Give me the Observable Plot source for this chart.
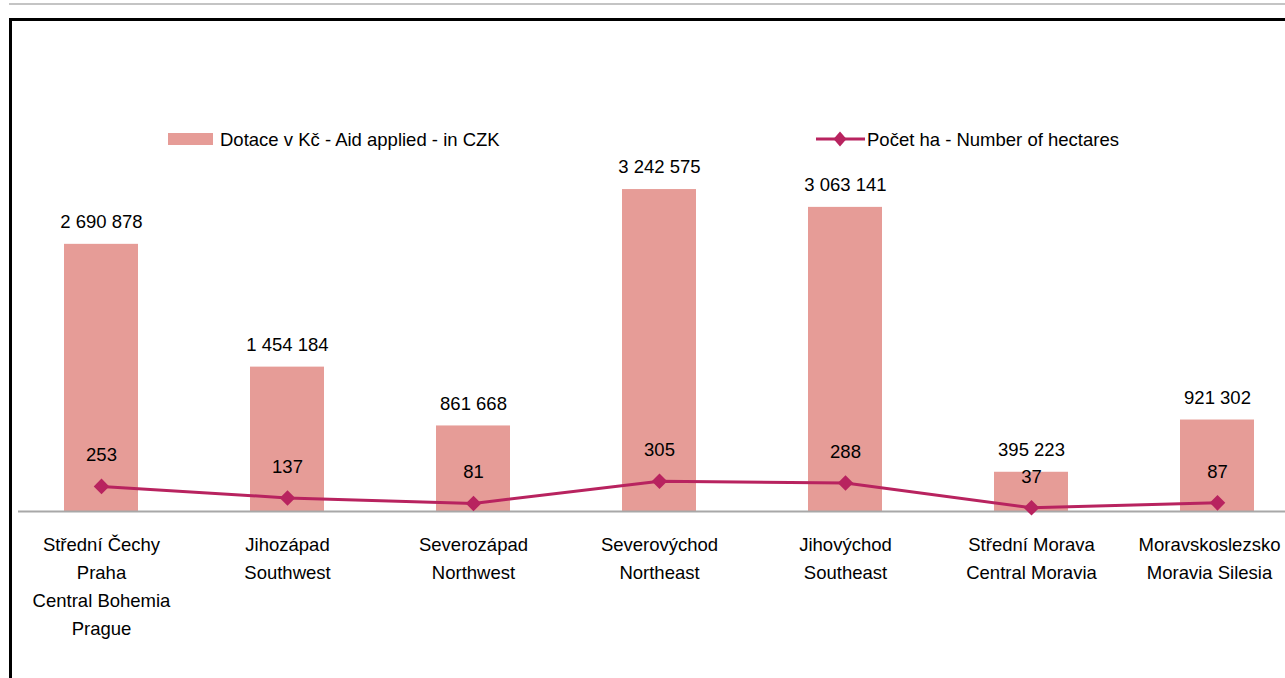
<!DOCTYPE html>
<html>
<head>
<meta charset="utf-8">
<script src="https://cdn.jsdelivr.net/npm/d3@7"></script>
<script src="https://cdn.jsdelivr.net/npm/@observablehq/plot@0.6"></script>
<style>
  html, body { margin: 0; padding: 0; background: #fff; }
  body { position: relative; width: 1285px; height: 678px; overflow: hidden;
         font-family: "Liberation Sans", Arial, sans-serif; }
  #topline { position: absolute; left: 9px; top: 3px; width: 1276px; height: 2px; background: #c4c4c4; }
  #box { position: absolute; left: 9px; top: 18px; width: 1300px; height: 700px;
         border-left: 3px solid #000; border-top: 3px solid #000; }
  #chart { position: absolute; left: 0; top: 0; }
  .leg { position: absolute; font-size: 18.5px; color: #000; line-height: 1; white-space: nowrap; }
</style>
</head>
<body>
<div id="topline"></div>
<div id="box"></div>
<div id="chart"></div>
<svg class="legsym" style="position:absolute;left:160px;top:125px" width="60" height="30">
  <rect x="8" y="8" width="45" height="12" fill="#e69c97"></rect>
</svg>
<div class="leg" style="left:220px;top:131px">Dotace v Kč - Aid applied - in CZK</div>
<svg class="legsym" style="position:absolute;left:810px;top:125px" width="60" height="30">
  <line x1="6" y1="14" x2="55" y2="14" stroke="#b8235f" stroke-width="3"></line>
  <path d="M30,6.5 L36.5,14 L30,21.5 L23.5,14 Z" fill="#b8235f"></path>
</svg>
<div class="leg" style="left:867px;top:131px">Počet ha - Number of hectares</div>
<script>
// ---- data ----
const regions = [
  "Střední Čechy\nPraha\nCentral Bohemia\nPrague",
  "Jihozápad\nSouthwest",
  "Severozápad\nNorthwest",
  "Severovýchod\nNortheast",
  "Jihovýchod\nSoutheast",
  "Střední Morava\nCentral Moravia",
  "Moravskoslezsko\nMoravia Silesia"
];
const aidCZK = [2690878, 1454184, 861668, 3242575, 3063141, 395223, 921302];
const hectares = [253, 137, 81, 305, 288, 37, 87];
const primaryAxisMax = 3500000;   // left (hidden) axis maximum
const secondaryAxisMax = 3500;    // right (hidden) axis maximum

const data = regions.map((r, i) => ({region: r, aid: aidCZK[i], ha: hectares[i]}));
const haY = d => d.ha / secondaryAxisMax * primaryAxisMax;
const fmt = v => d3.format(",")(v).replace(/,/g, " ");

const barColor = "#e69c97";
const lineColor = "#b8235f";
const font = "Liberation Sans, Arial, sans-serif";
const lastRegion = regions[regions.length - 1];

const labelOpts = {x: "region", y: () => 0, text: "region", lineAnchor: "top", dy: 20,
                   lineHeight: 28 / 18.5, fill: "#000", fontSize: 18.5};

const chart = Plot.plot({
  width: 1285,
  height: 678,
  marginLeft: 18,
  marginRight: 0,
  marginTop: 0,
  marginBottom: 0,
  style: {background: "transparent", fontFamily: font, fontSize: "18.5px", color: "#000", overflow: "visible"},
  x: {type: "band", domain: regions, range: [8, 1310], paddingInner: 0.602, paddingOuter: 0.301, axis: null},
  y: {domain: [0, primaryAxisMax], range: [511, 163.5], axis: null},
  marks: [
    Plot.barY(data, {x: "region", y: "aid", fill: barColor}),
    Plot.ruleY([0], {stroke: "#a8a8a8", strokeWidth: 2}),
    Plot.text(data, {x: "region", y: "aid", text: d => fmt(d.aid), dy: -22, fill: "#000", fontSize: 18.5}),
    Plot.line(data, {x: "region", y: haY, stroke: lineColor, strokeWidth: 3}),
    Plot.dot(data, {x: "region", y: haY, symbol: "diamond2", r: 7, fill: lineColor, stroke: "none"}),
    Plot.text(data, {x: "region", y: haY, text: d => String(d.ha), dy: -31, fill: "#000", fontSize: 18.5}),
    Plot.text(data.filter(d => d.region !== lastRegion), labelOpts),
    Plot.text(data.filter(d => d.region === lastRegion), {...labelOpts, dx: -8})
  ]
});
document.getElementById("chart").appendChild(chart);
</script>
</body>
</html>
